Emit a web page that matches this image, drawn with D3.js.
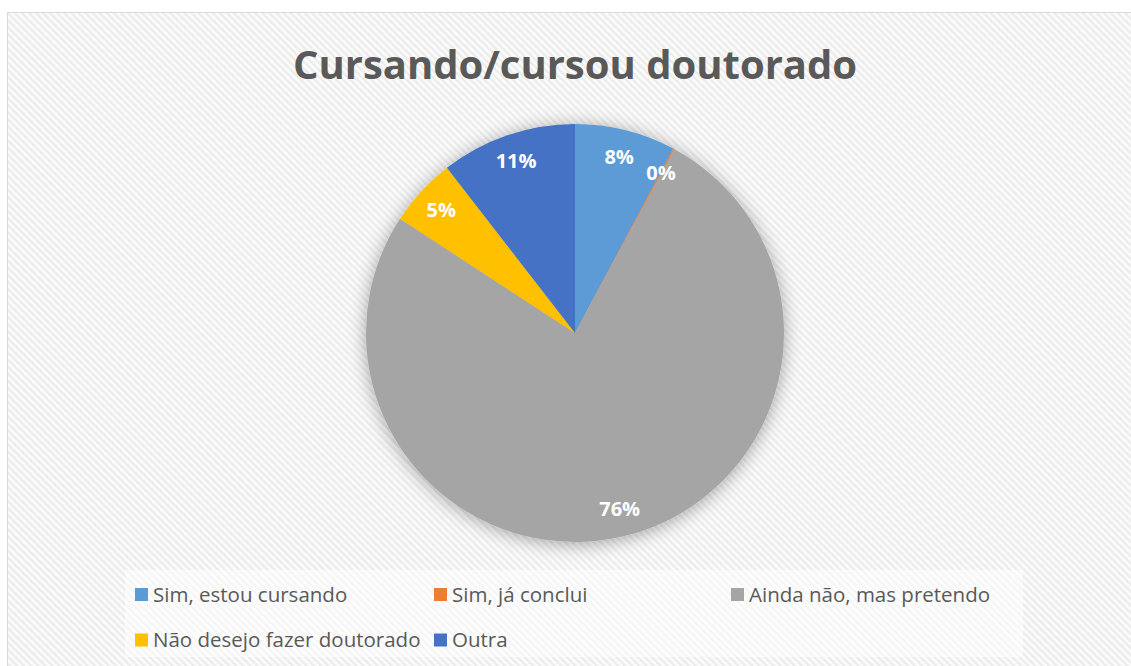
<!DOCTYPE html>
<html>
<head>
<meta charset="utf-8">
<script src="https://cdn.jsdelivr.net/npm/d3@7"></script>
<style>
  body { margin: 0; background: #fff; }
  text { font-family: "Open Sans", "Noto Sans", sans-serif; }
</style>
</head>
<body>
<div id="chart"></div>
<script>
// data ---------------------------------------------------------------
var categories = ["Sim, estou cursando", "Sim, já conclui", "Ainda não, mas pretendo",
                  "Não desejo fazer doutorado", "Outra"];
var shares = [7.8, 0.1, 76.3, 5.3, 10.5];
var labels = ["8%", "0%", "76%", "5%", "11%"];
var colors = ["#5B9BD5", "#ED7D31", "#A5A5A5", "#FFC000", "#4472C4"];
var title = "Cursando/cursou doutorado";

var W = 1131, H = 666;
var svg = d3.select("#chart").append("svg")
    .attr("width", W).attr("height", H);

var defs = svg.append("defs");

// hatched background
var pat = defs.append("pattern")
    .attr("id", "hatch")
    .attr("patternUnits", "userSpaceOnUse")
    .attr("width", 5).attr("height", 5)
    .attr("patternTransform", "rotate(-45)");
pat.append("rect").attr("width", 5).attr("height", 5).attr("fill", "#fcfcfc");
pat.append("rect").attr("width", 2.5).attr("height", 5).attr("fill", "#ececec");

// soft shadow round the pie
var f = defs.append("filter").attr("id", "shadow")
    .attr("x", "-20%").attr("y", "-20%").attr("width", "140%").attr("height", "140%");
f.append("feGaussianBlur").attr("in", "SourceAlpha").attr("stdDeviation", 9).attr("result", "b");
f.append("feOffset").attr("in", "b").attr("dx", 0).attr("dy", 2).attr("result", "o");
f.append("feComponentTransfer").attr("in", "o").attr("result", "s")
  .append("feFuncA").attr("type", "linear").attr("slope", 0.35);
var m = f.append("feMerge");
m.append("feMergeNode").attr("in", "s");
m.append("feMergeNode").attr("in", "SourceGraphic");

// chart area
svg.append("rect")
    .attr("x", 7.5).attr("y", 12.5)
    .attr("width", 1200).attr("height", 700)
    .attr("fill", "url(#hatch)")
    .attr("stroke", "#d9d9d9").attr("stroke-width", 1);

// title
svg.append("text")
    .attr("x", 575).attr("y", 79)
    .attr("text-anchor", "middle")
    .attr("font-size", 40).attr("font-weight", "bold")
    .attr("fill", "#595959")
    .text(title);

// pie ------------------------------------------------------------------
var cx = 575, cy = 333, R = 209;
var pie = d3.pie().sort(null).value(function(d) { return d; });
var arcs = pie(shares);
var arc = d3.arc().innerRadius(0).outerRadius(R);
var labelArc = d3.arc().innerRadius(R * 0.87).outerRadius(R * 0.87);

var g = svg.append("g").attr("transform", "translate(" + cx + "," + cy + ")");
g.append("g").attr("filter", "url(#shadow)")
  .selectAll("path")
  .data(arcs)
  .enter()
  .append("path")
    .attr("d", arc)
    .attr("fill", function(d, i) { return colors[i]; });

g.selectAll("text.lbl")
  .data(arcs)
  .enter()
  .append("text")
    .attr("class", "lbl")
    .attr("transform", function(d) {
        var c = labelArc.centroid(d);
        return "translate(" + c[0] + "," + c[1] + ")";
    })
    .attr("text-anchor", "middle")
    .attr("dy", "0.35em")
    .attr("font-size", 20).attr("font-weight", "bold")
    .attr("fill", "#fff")
    .text(function(d, i) { return labels[i]; });

// legend -----------------------------------------------------------------
svg.append("rect")
    .attr("x", 125).attr("y", 570).attr("width", 898).attr("height", 87)
    .attr("fill", "#fff").attr("fill-opacity", 0.5);

var legX = [135, 434, 731, 135, 434];
var legY = [594.5, 594.5, 594.5, 640, 640];
var leg = svg.selectAll("g.leg")
  .data(categories)
  .enter()
  .append("g")
    .attr("class", "leg")
    .attr("transform", function(d, i) { return "translate(" + legX[i] + "," + legY[i] + ")"; });
leg.append("rect")
    .attr("x", 0).attr("y", -6.5).attr("width", 13).attr("height", 13)
    .attr("fill", function(d, i) { return colors[i]; });
leg.append("text")
    .attr("x", 18).attr("dy", "0.35em")
    .attr("font-size", 20.5).attr("fill", "#595959")
    .text(function(d) { return d; });
</script>
</body>
</html>
